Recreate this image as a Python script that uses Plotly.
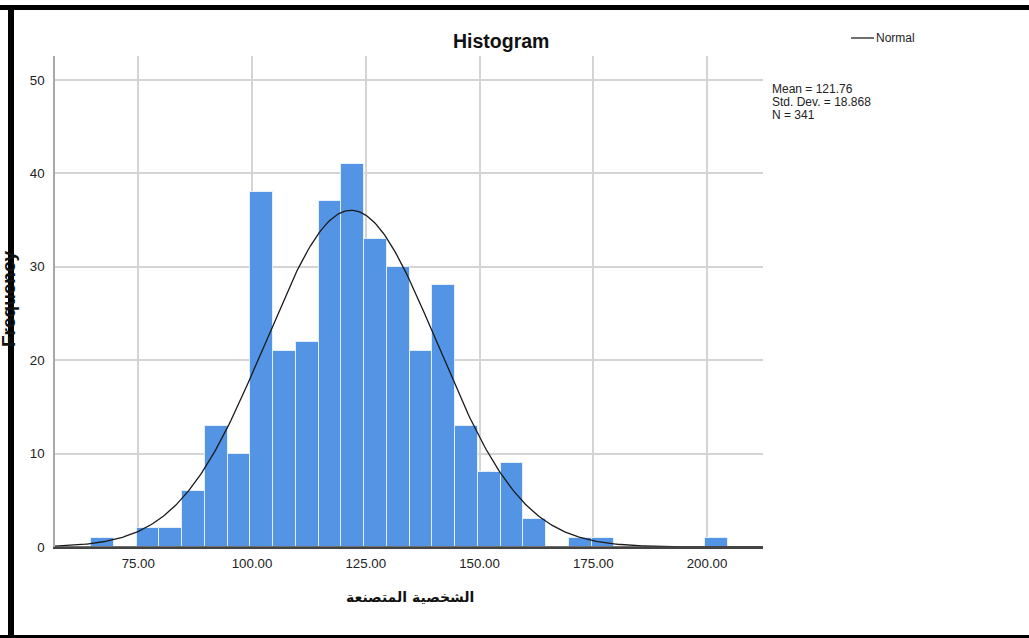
import numpy as np
import plotly.graph_objects as go

# ---- data ----
bin_start = 64.65
bin_width = 5.0
counts = [1, 0, 2, 2, 6, 13, 10, 38, 21, 22, 37, 41, 33, 30, 21, 28, 13, 8, 9, 3,
          0, 1, 1, 0, 0, 0, 0, 1]
mean_val = 121.76
sd_val = 18.868
n_val = 341
x_ticks = [75, 100, 125, 150, 175, 200]
x_tick_labels = ["75.00", "100.00", "125.00", "150.00", "175.00", "200.00"]
y_ticks = [0, 10, 20, 30, 40, 50]

x_title = "الشخصية المتصنعة"
y_title = "Frequency"
title = "Histogram"

centers = [bin_start + bin_width * (i + 0.5) for i in range(len(counts))]

x_range = [56.7, 212.3]
y_range = [0, 52.57]

# fitted normal curve (from the stated Mean / Std. Dev. / N)
xs = np.linspace(x_range[0], x_range[1], 400)
ys = n_val * bin_width / (sd_val * np.sqrt(2 * np.pi)) * np.exp(-0.5 * ((xs - mean_val) / sd_val) ** 2)

FONT = "Liberation Sans, Arial, sans-serif"

fig = go.Figure()
fig.add_trace(go.Bar(
    x=centers, y=counts, width=bin_width,
    marker=dict(color="#5394E4", line=dict(color="rgba(235,242,252,0.9)", width=1)),
    showlegend=False, hoverinfo="x+y",
))
fig.add_trace(go.Scatter(
    x=xs, y=ys, mode="lines", line=dict(color="#1a1a1a", width=1.3),
    showlegend=False, name="Normal",
))

fig.update_layout(
    width=1029, height=638, autosize=False,
    margin=dict(l=55, r=266, t=56, b=91),
    paper_bgcolor="white", plot_bgcolor="white",
    bargap=0,
    font=dict(family=FONT, size=12, color="#222"),
    xaxis=dict(range=x_range, tickvals=x_ticks, ticktext=x_tick_labels,
               showgrid=True, gridcolor="#d4d4d4", gridwidth=1.5,
               showline=True, linecolor="#444", linewidth=1.5,
               zeroline=False, ticks="", tickfont=dict(size=13.3, color="#222"),
               ticklabelstandoff=3),
    yaxis=dict(range=y_range, tickvals=y_ticks,
               showgrid=True, gridcolor="#d4d4d4", gridwidth=1.5,
               showline=True, linecolor="#a8a8a8", linewidth=1.5,
               zeroline=False, ticks="", tickfont=dict(size=13.3, color="#222"),
               ticklabelstandoff=6),
)

# baseline drawn above the bars
fig.add_shape(type="line", xref="paper", yref="y", x0=0, x1=1, y0=0, y1=0,
              line=dict(color="#444", width=1.5), layer="above")

# frame (black border bands)
fig.add_shape(type="rect", xref="paper", yref="paper", x0=-55/708, x1=(1029-55)/708,
              y0=(638-10-91)/491, y1=(638-5-91)/491, fillcolor="black", line_width=0)
fig.add_shape(type="rect", xref="paper", yref="paper", x0=(8-55)/708, x1=(14-55)/708,
              y0=-91/491, y1=(638-5-91)/491, fillcolor="black", line_width=0)
fig.add_shape(type="rect", xref="paper", yref="paper", x0=-55/708, x1=(1029-55)/708,
              y0=-91/491, y1=(-91+3)/491, fillcolor="black", line_width=0)

def px(x):
    return (x - 55) / 708

def py(y):
    return (547 - y) / 491

# title
fig.add_annotation(text="<b>" + title + "</b>", xref="paper", yref="paper",
                   x=px(501), y=py(41), showarrow=False,
                   font=dict(family=FONT, size=19.5, color="#111"), xanchor="center", yanchor="middle")

# axis titles
fig.add_annotation(text="<b>" + x_title + "</b>", xref="paper", yref="paper",
                   x=px(410), y=py(597), showarrow=False,
                   font=dict(family="DejaVu Sans, sans-serif", size=14, color="#111"),
                   xanchor="center", yanchor="middle")
fig.add_annotation(text="<b>" + y_title + "</b>", xref="paper", yref="paper",
                   x=px(8), y=py(299), showarrow=False, textangle=-90,
                   font=dict(family=FONT, size=19, color="#111"),
                   xanchor="center", yanchor="middle")

# legend (Normal)
fig.add_shape(type="line", xref="paper", yref="paper", x0=px(851), x1=px(874),
              y0=py(38), y1=py(38), line=dict(color="#222", width=1.3))
fig.add_annotation(text="Normal", xref="paper", yref="paper", x=px(874), y=py(38),
                   showarrow=False, xanchor="left", yanchor="middle",
                   font=dict(family=FONT, size=12, color="#222"))

# stats block
stats = [f"Mean = {mean_val:.2f}", f"Std. Dev. = {sd_val:.3f}", f"N = {n_val}"]
for i, s in enumerate(stats):
    fig.add_annotation(text=s, xref="paper", yref="paper", x=px(770), y=py(89 + 13 * i),
                       showarrow=False, xanchor="left", yanchor="middle",
                       font=dict(family=FONT, size=12, color="#222"))

fig.write_html("out.html", config={"displayModeBar": False},
               post_script="document.body.style.margin='0';document.body.style.overflow='hidden';")
